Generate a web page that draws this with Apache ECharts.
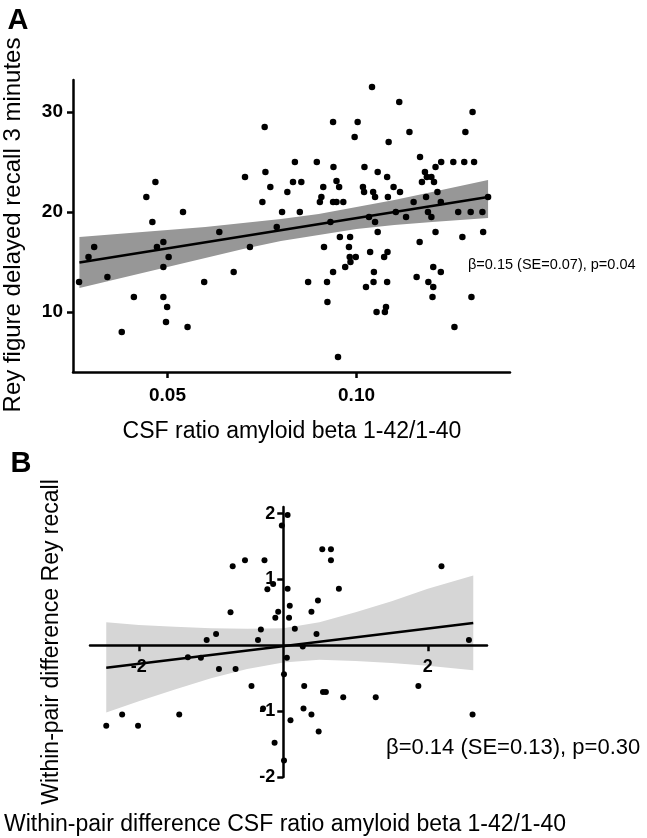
<!DOCTYPE html>
<html>
<head>
<meta charset="utf-8">
<script src="https://cdn.jsdelivr.net/npm/echarts@6/dist/echarts.min.js"></script>
<style>
    html, body {margin: 0; padding: 0; background: #fff}
    #chart {width: 647px; height: 838px}
</style>
</head>
<body>
<div id="chart"></div>
<script>
    // panel A: CSF ratio vs Rey delayed recall
    let pointsA = [
        [0.0266, 13.0], [0.0291, 15.5], [0.0306, 16.5], [0.0341, 13.5], [0.0379, 8.0], [0.0411, 11.5],
        [0.0444, 21.5], [0.0468, 23.0], [0.0460, 19.0], [0.0472, 16.5], [0.0489, 17.0], [0.0503, 15.5],
        [0.0489, 14.5], [0.0489, 11.5], [0.0499, 10.5], [0.0496, 9.0], [0.0541, 20.0], [0.0553, 8.5],
        [0.0597, 13.0], [0.0637, 18.0], [0.0675, 14.0], [0.0705, 23.5], [0.0718, 16.5], [0.0751, 21.0],
        [0.0757, 28.5], [0.0759, 24.0], [0.0772, 22.5], [0.0789, 18.5], [0.0803, 20.0], [0.0817, 22.0],
        [0.0832, 23.0], [0.0837, 25.0], [0.0854, 23.0], [0.0850, 20.0], [0.0872, 13.0],
        [0.1041, 32.5], [0.1113, 31.0], [0.1307, 30.0], [0.0938, 29.0], [0.1003, 29.0], [0.0995, 27.5],
        [0.1140, 28.0], [0.1288, 28.0], [0.1085, 27.0], [0.1168, 25.5], [0.0895, 25.0], [0.0939, 24.5],
        [0.1021, 24.5], [0.1224, 25.0], [0.1256, 25.0], [0.1285, 25.0], [0.1311, 25.0], [0.1209, 24.5],
        [0.1056, 24.0], [0.1181, 24.0], [0.1081, 23.5], [0.1186, 23.5], [0.1198, 23.5], [0.0947, 23.1],
        [0.1173, 23.0], [0.1205, 23.0], [0.0912, 22.5], [0.0954, 22.5], [0.1017, 22.5], [0.1098, 22.5],
        [0.0907, 21.5], [0.0903, 21.0], [0.0938, 21.0], [0.0947, 21.0], [0.0965, 21.0], [0.1020, 22.0],
        [0.1044, 22.0], [0.1115, 22.0], [0.1214, 22.0], [0.1049, 21.5], [0.1083, 21.5], [0.1184, 21.5],
        [0.1151, 21.0], [0.1223, 21.0], [0.1348, 21.5], [0.0931, 19.0], [0.1033, 19.5], [0.1049, 19.0],
        [0.1104, 20.0], [0.1131, 19.5], [0.1189, 20.0], [0.1198, 19.5], [0.1269, 20.0], [0.1302, 20.0],
        [0.1333, 20.0], [0.1056, 18.0], [0.1209, 18.0], [0.1335, 18.0], [0.1280, 17.5], [0.0956, 17.5],
        [0.0983, 17.5], [0.1167, 17.0], [0.0914, 16.5], [0.0980, 16.5], [0.1036, 16.0], [0.1082, 16.0],
        [0.1073, 15.5], [0.0982, 15.5], [0.0998, 15.5], [0.0984, 15.0], [0.0970, 14.5], [0.0938, 14.0],
        [0.1046, 14.0], [0.1203, 14.5], [0.1223, 14.0], [0.0922, 13.0], [0.1045, 13.0], [0.1081, 13.0],
        [0.1025, 12.5], [0.1159, 13.5], [0.1190, 13.0], [0.1203, 12.5], [0.1201, 11.5], [0.1304, 11.5],
        [0.0923, 11.0], [0.1053, 10.0], [0.1075, 10.0], [0.1078, 10.5], [0.1259, 8.5], [0.0951, 5.5]
    ]
    let fitA = [[0.0267, 14.94], [0.1348, 21.5]]
    let bandAx = [0.0267, 0.04, 0.05, 0.06, 0.07, 0.08, 0.09, 0.10, 0.11, 0.12, 0.1348]
    let bandAup = [17.5, 17.9, 18.2, 18.5, 18.9, 19.3, 19.8, 20.5, 21.2, 22.0, 23.2]
    let bandAlow = [12.4, 13.6, 14.5, 15.4, 16.3, 17.1, 17.7, 18.3, 18.7, 19.0, 19.4]
    let ticksAx = [0.05, 0.10]
    let ticksAy = [10, 20, 30]

    // panel B: within-pair differences
    let pointsB = [
        [-2.45, -1.22], [-2.23, -1.05], [-2.01, -1.22], [-1.44, -1.05], [-1.32, -0.18], [-1.14, -0.19],
        [-1.06, 0.08], [-0.93, 0.17], [-0.89, -0.36], [-0.66, -0.36], [-0.73, 0.50], [-0.70, 1.20],
        [-0.53, 1.29], [-0.26, 1.29], [-0.44, -0.62], [-0.35, 0.08], [-0.31, 0.24], [-0.14, 0.93],
        [-0.22, 0.85], [-0.11, 0.42], [-0.07, 0.51], [-0.28, -0.96], [-0.12, -1.48], [-0.02, 1.82],
        [0.06, 1.98], [0.06, 0.86], [0.09, 0.60], [0.08, 0.42], [0.16, 0.25], [0.05, -0.19],
        [0.01, -0.44], [0.10, -1.14], [0.29, -0.62], [0.28, -0.96], [0.01, -1.75], [0.27, -0.02],
        [0.39, -1.05], [0.49, -1.31], [0.39, 0.51], [0.48, 0.68], [0.46, 0.17], [0.54, 1.46],
        [0.66, 1.46], [0.66, 1.29], [0.77, 0.86], [0.55, -0.71], [0.59, -0.71], [0.83, -0.79],
        [1.28, -0.79], [1.87, -0.62], [2.19, 1.20], [2.57, 0.08], [2.62, -1.05]
    ]
    let fitB = [[-2.45, -0.34], [2.63, 0.34]]
    let bandBx = [-2.45, -2, -1.5, -1, -0.5, 0, 0.5, 1, 1.5, 2, 2.63]
    let bandBup = [0.35, 0.31, 0.28, 0.26, 0.25, 0.26, 0.35, 0.50, 0.67, 0.86, 1.06]
    let bandBlow = [-1.02, -0.85, -0.67, -0.50, -0.36, -0.26, -0.22, -0.24, -0.27, -0.31, -0.38]
    let ticksBx = [-2, 2]
    let ticksBy = [-2, -1, 1, 2]

    let font = 'Liberation Sans, Arial, sans-serif'
    let black = '#000'

    // 置信带：上沿正向 + 下沿反向 拼成多边形
    function bandSeries(idx, xs, up, low, color) {
        return {
            type: 'custom',
            xAxisIndex: idx,
            yAxisIndex: idx,
            silent: true,
            data: [[xs[0], up[0]]],
            renderItem(params, api) {
                let pts = []
                xs.forEach((x, i) => pts.push(api.coord([x, up[i]])))
                for (let i = xs.length - 1; i >= 0; i--) {
                    pts.push(api.coord([xs[i], low[i]]))
                }
                return {type: 'polygon', shape: {points: pts}, style: {fill: color}}
            }
        }
    }

    function axis(idx, min, max, ticks, opts) {
        return Object.assign({
            type: 'value',
            gridIndex: idx,
            min: min,
            max: max,
            splitLine: {show: false},
            axisLine: {show: true, lineStyle: {color: black, width: 2.5}},
            axisTick: {show: true, customValues: ticks, length: 6, lineStyle: {color: black, width: 2.5}},
            axisLabel: {
                customValues: ticks,
                color: black,
                fontFamily: font,
                fontWeight: 'bold',
                fontSize: 19
            }
        }, opts)
    }

    let xA = axis(0, 0.025, 0.1406, ticksAx, {})
    xA.axisLine.onZero = false
    xA.axisLabel.margin = 14
    xA.axisLabel.formatter = v => v.toFixed(2)
    let yA = axis(0, 4, 33.2, ticksAy, {})
    yA.axisLine.onZero = false
    yA.axisLabel.margin = 10

    // B 的坐标轴穿过原点，刻度文字跟着轴线走，用散点标签放在 0 线上
    let xB = axis(1, -2.675, 2.82, ticksBx, {z: 5})
    xB.axisLabel.show = false
    let yB = axis(1, -2, 2.1, ticksBy, {z: 5})
    yB.axisLabel.show = false

    function tickLabels(data, pos, dist, dim) {
        return {
            type: 'scatter',
            xAxisIndex: 1,
            yAxisIndex: 1,
            silent: true,
            z: 6,
            symbolSize: 0.1,
            itemStyle: {color: black, opacity: 1},
            data: data,
            label: {
                show: true,
                position: pos,
                distance: dist,
                formatter: p => String(p.value[dim]),
                color: black,
                textBorderWidth: 0,
                fontFamily: font,
                fontWeight: 'bold',
                fontSize: 18
            }
        }
    }

    function text(str, x, y, size, opts) {
        return Object.assign({
            type: 'text',
            x: x,
            y: y,
            style: {
                text: str,
                font: (opts && opts.bold ? 'bold ' : '') + size + 'px ' + font,
                fill: black,
                textAlign: (opts && opts.align) || 'center',
                textVerticalAlign: 'middle'
            }
        }, opts && opts.rotate ? {rotation: Math.PI / 2} : {})
    }

    let option = {
        animation: false,
        grid: [
            {left: 73, top: 80, width: 437, height: 292},
            {left: 90, top: 507, width: 397, height: 270}
        ],
        xAxis: [xA, xB],
        yAxis: [yA, yB],
        series: [
            bandSeries(0, bandAx, bandAup, bandAlow, '#979797'),
            {
                type: 'line', xAxisIndex: 0, yAxisIndex: 0, data: fitA, showSymbol: false,
                lineStyle: {color: black, width: 2.5}
            },
            {
                type: 'scatter', xAxisIndex: 0, yAxisIndex: 0, data: pointsA, symbolSize: 6.5,
                itemStyle: {color: black, opacity: 1}
            },
            bandSeries(1, bandBx, bandBup, bandBlow, '#d6d6d6'),
            {
                type: 'line', xAxisIndex: 1, yAxisIndex: 1, data: fitB, showSymbol: false,
                lineStyle: {color: black, width: 2.5}
            },
            {
                type: 'scatter', xAxisIndex: 1, yAxisIndex: 1, data: pointsB, symbolSize: 6,
                itemStyle: {color: black, opacity: 1}
            },
            tickLabels(ticksBx.map(v => [v, 0]), 'bottom', 13, 0),
            tickLabels(ticksBy.map(v => [0, v]), 'left', 8, 1)
        ],
        graphic: [
            text('A', 18, 21, 29, {bold: true}),
            text('B', 21, 464, 29, {bold: true}),
            text('Rey figure delayed recall 3 minutes', 13, 225, 24, {rotate: true}),
            text('CSF ratio amyloid beta 1-42/1-40', 292, 432, 23),
            text('β=0.15 (SE=0.07), p=0.04', 468, 265, 14.5, {align: 'left'}),
            text('Within-pair difference Rey recall', 52, 642, 23, {rotate: true}),
            text('Within-pair difference CSF ratio amyloid beta 1-42/1-40', 285, 825, 23),
            text('β=0.14 (SE=0.13), p=0.30', 386, 748, 22, {align: 'left'})
        ]
    }

    let chart = echarts.init(document.getElementById('chart'))
    chart.setOption(option)
</script>
</body>
</html>
